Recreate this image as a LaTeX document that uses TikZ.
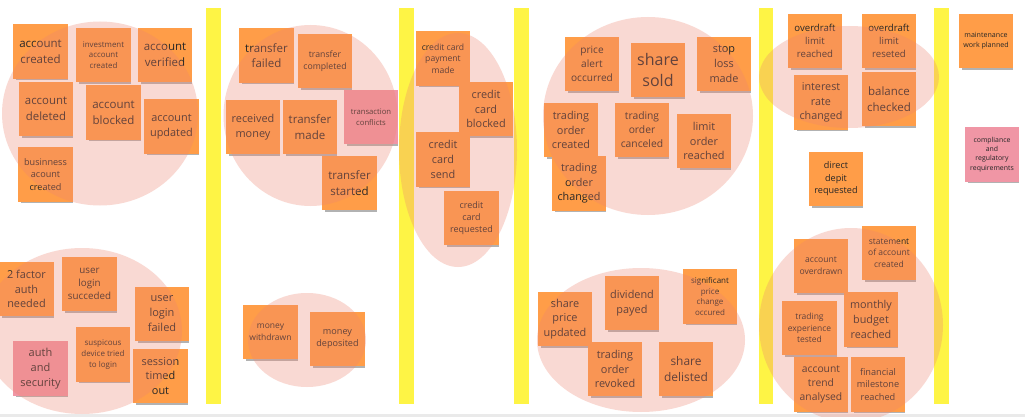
\documentclass[tikz,border=0pt]{standalone}
\usepackage{fontspec}
\setmainfont{Open Sans}
\usetikzlibrary{shadows}
\definecolor{stickyorange}{RGB}{255,157,72}
\definecolor{stickypink}{RGB}{240,150,165}
\definecolor{laneyellow}{RGB}{254,244,69}
\definecolor{blobpink}{RGB}{238,132,112}
\definecolor{inktext}{RGB}{38,38,38}
\definecolor{baseline}{RGB}{234,234,234}
\begin{document}
\begin{tikzpicture}[x=1pt,y=-1pt,
  sticky/.style={fill=stickyorange, minimum width=54.5pt, minimum height=54.5pt,
    inner sep=1pt, align=center, text=inktext,
    drop shadow={shadow xshift=1.5pt, shadow yshift=-3pt, shadow scale=0.95, opacity=0.3, fill=black}},
  pinksticky/.style={sticky, fill=stickypink},
  txt/.style={font=\fontsize{#1}{\fpeval{1.36*#1}}\selectfont},
  blob/.style={fill=blobpink, fill opacity=0.3},
  lane/.style={fill=laneyellow},
  floorline/.style={fill=baseline}]
\useasboundingbox (0,0) rectangle (1025,417);
\fill[white] (0,0) rectangle (1025,417);
% lanes
\fill[lane] (206,8) rectangle (221,404);
\fill[lane] (399,8) rectangle (414,404);
\fill[lane] (514,8) rectangle (529,404);
\fill[lane] (759,8) rectangle (773,404);
\fill[lane] (934,8) rectangle (949,404);
\fill[floorline] (0,414) rectangle (1025,417);
% board 1
\node[sticky, txt=11.5] (acreated) at (40.5,51.5) {account\\created};
\node[sticky, txt=7.9] (invcreated) at (103.5,55) {investment\\account\\created};
\node[sticky, txt=11.5] (averified) at (165,55) {account\\verified};
\node[sticky, txt=11.4] (adeleted) at (46,109) {account\\deleted};
\node[sticky, txt=11.5] (ablocked) at (113.5,112.5) {account\\blocked};
\node[sticky, txt=10.9] (aupdated) at (171.5,126.5) {account\\updated};
\node[sticky, txt=9.1] (bizcreated) at (45.5,174.5) {businness\\acount\\created};
\node[sticky, txt=10.9] (twofactor) at (26.5,289) {2 factor\\auth\\needed};
\node[sticky, txt=9.8] (loginok) at (89.5,284) {user\\login\\succeded};
\node[sticky, txt=11] (loginfail) at (162,314) {user\\login\\failed};
\node[sticky, txt=8] (suspicious) at (103,354.5) {suspicous\\device tried\\to login};
\node[pinksticky, txt=11] (authsec) at (40.5,368.5) {auth\\and\\security};
\node[sticky, txt=10.9] (session) at (160.5,376) {session\\timed\\out};
% board 2
\node[sticky, txt=11.5] (tfailed) at (266.5,55.5) {transfer\\failed};
\node[sticky, txt=8.7] (tcompleted) at (325,61) {transfer\\completed};
\node[sticky, txt=10.9] (received) at (253,127) {received\\money};
\node[sticky, txt=11.5] (tmade) at (310,127) {transfer\\made};
\node[pinksticky, txt=7.7] (tconflicts) at (371,117) {transaction\\conflicts};
\node[sticky, txt=11.5] (tstarted) at (349.5,183) {transfer\\started};
\node[sticky, txt=8.5] (withdrawn) at (270.5,332) {money\\withdrawn};
\node[sticky, txt=9.1] (deposited) at (337.5,339) {money\\deposited};
% board 3
\node[sticky, txt=8.6] (ccpayment) at (443,58.5) {credit card\\payment\\made};
\node[sticky, txt=10.9] (ccblocked) at (486,109) {credit\\card\\blocked};
\node[sticky, txt=10.9] (ccsend) at (443,159.5) {credit\\card\\send};
\node[sticky, txt=9] (ccrequested) at (471.5,218) {credit\\card\\requested};
% board 4
\node[sticky, txt=10.1] (pricealert) at (592,64) {price\\alert\\occurred};
\node[sticky, txt=16] (sharesold) at (658,70) {share\\sold};
\node[sticky, txt=10.9] (stoploss) at (724,64) {stop\\loss\\made};
\node[sticky, txt=10.9] (tocreated) at (571,130) {trading\\order\\created};
\node[sticky, txt=10.3] (tocanceled) at (642,130) {trading\\order\\canceled};
\node[sticky, txt=10.9] (limitorder) at (704,141) {limit\\order\\reached};
\node[sticky, txt=10.8] (tochanged) at (579,183.5) {trading\\order\\changed};
\node[sticky, txt=10.9] (shareprice) at (565,319) {share\\price\\updated};
\node[sticky, txt=10.9] (dividend) at (632,303) {dividend\\payed};
\node[sticky, txt=8] (significant) at (710,296.5) {significant\\price\\change\\occured};
\node[sticky, txt=10.9] (torevoked) at (615,369) {trading\\order\\revoked};
\node[sticky, txt=11.9] (delisted) at (686,369) {share\\delisted};
% board 5
\node[sticky, txt=9.6] (odreached) at (815,41) {overdraft\\limit\\reached};
\node[sticky, txt=9.6] (odreseted) at (889,41) {overdraft\\limit\\reseted};
\node[sticky, txt=10.8] (interest) at (821,102.5) {interest\\rate\\changed};
\node[sticky, txt=11.5] (balance) at (889,99) {balance\\checked};
\node[sticky, txt=9.1] (directdepit) at (836,179) {direct\\depit\\requested};
\node[sticky, txt=8.6] (overdrawn) at (821,266) {account\\overdrawn};
\node[sticky, txt=8.5] (statement) at (889,253) {statement\\of account\\created};
\node[sticky, txt=8.5] (tradingexp) at (809.5,328) {trading\\experience\\tested};
\node[sticky, txt=10.8] (monthly) at (871,319.5) {monthly\\budget\\reached};
\node[sticky, txt=10.3] (trend) at (821,384.5) {account\\trend\\analysed};
\node[sticky, txt=9.2] (milestone) at (878,384.5) {financial\\milestone\\reached};
% board 6
\node[sticky, txt=7.1] (maintenance) at (986,41) {maintenance\\work planned};
\node[pinksticky, txt=6.9] (compliance) at (992,154.5) {compliance\\and\\regulatory\\requirements};
% grouping blobs
\fill[blob] (100,113.5) ellipse [x radius=98, y radius=92];
\fill[blob] (82,331) ellipse [x radius=100, y radius=83];
\fill[blob] (310.5,115.5) ellipse [x radius=87, y radius=90.5];
\fill[blob] (307,340) ellipse [x radius=59, y radius=47];
\fill[blob] (458,150) ellipse [x radius=59, y radius=117];
\fill[blob] (648,116) ellipse [x radius=105, y radius=99];
\fill[blob] (641,340) ellipse [x radius=104, y radius=72];
\fill[blob] (849,77) ellipse [x radius=90, y radius=51];
\fill[blob] (851,325) ellipse [x radius=92, y radius=97];
\end{tikzpicture}
\end{document}
